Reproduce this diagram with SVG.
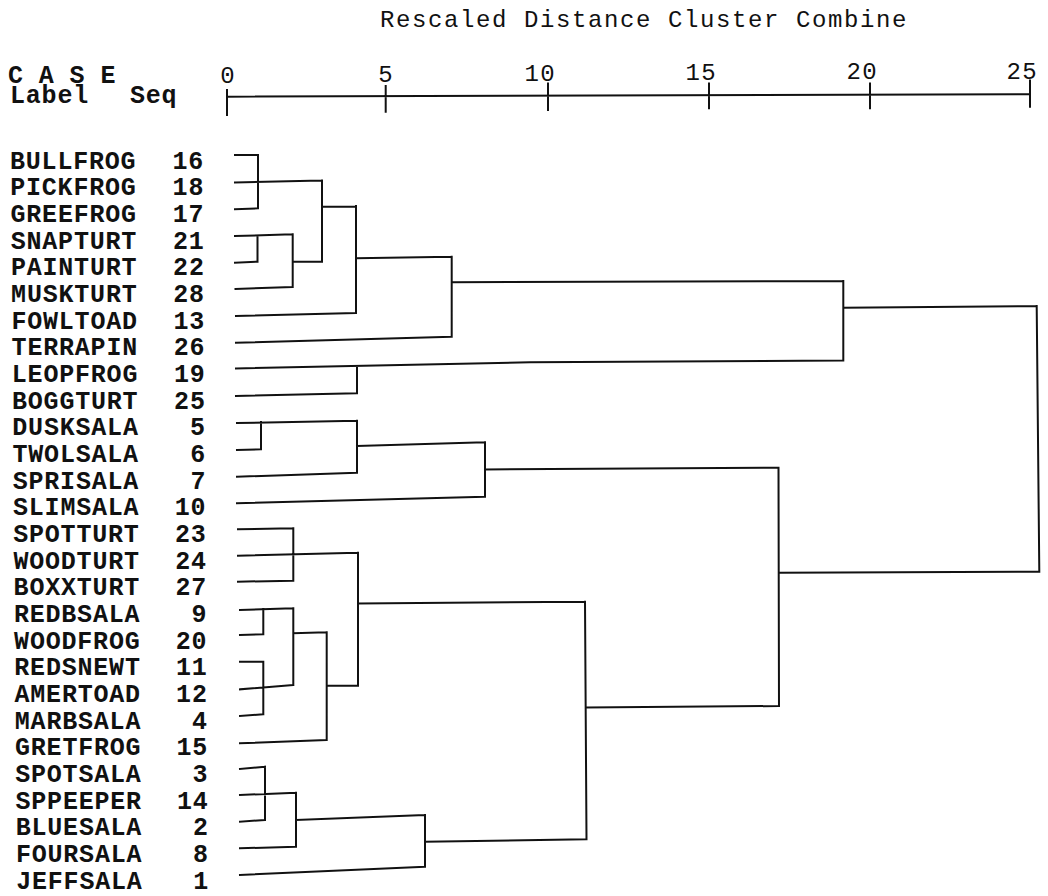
<svg xmlns="http://www.w3.org/2000/svg" width="1048" height="896" viewBox="0 0 1048 896">
<style>
.t{font-family:"Liberation Mono","DejaVu Sans Mono",monospace;font-size:25px;font-weight:bold;letter-spacing:0.8px;fill:#111}
.n{text-anchor:end}
.title{font-family:"Liberation Mono","DejaVu Sans Mono",monospace;font-size:24px;letter-spacing:1.6px;fill:#111}
.ax{font-family:"Liberation Mono","DejaVu Sans Mono",monospace;font-size:24px;letter-spacing:1.4px;fill:#111;text-anchor:end}
.l{fill:none;stroke:#111;stroke-width:2;stroke-linecap:square;stroke-linejoin:miter}
</style>
<rect width="1048" height="896" fill="#fff"/>
<text class="title" x="380" y="27">Rescaled Distance Cluster Combine</text>
<g id="header">
<text class="t" x="8" y="83" style="letter-spacing:0.4px">C A S E</text>
<text class="t" x="10" y="103">Label</text>
<text class="t" x="130" y="103">Seq</text>
</g>
<g id="axis">
<path class="l" d="M227,96.7 L1030,94.3 M227,90 V115 M385.7,86 V111.7 M548,83.5 V110 M709,83.5 V108.3 M870,83.5 V108.3 M1030,80.5 V106.7"/>
<text class="ax" x="236" y="83">0</text>
<text class="ax" x="394" y="82">5</text>
<text class="ax" x="556" y="80.5">10</text>
<text class="ax" x="717" y="80">15</text>
<text class="ax" x="878" y="79">20</text>
<text class="ax" x="1038" y="78.5">25</text>
</g>
<g id="leaf-16"><text class="t" x="10" y="168.5">BULLFROG</text><text class="t n" x="204" y="168.5">16</text></g>
<g id="leaf-18"><text class="t" x="10.2" y="195.2">PICKFROG</text><text class="t n" x="204.2" y="195.2">18</text></g>
<g id="leaf-17"><text class="t" x="10.5" y="221.8">GREEFROG</text><text class="t n" x="204.4" y="221.8">17</text></g>
<g id="leaf-21"><text class="t" x="10.7" y="248.5">SNAPTURT</text><text class="t n" x="204.6" y="248.5">21</text></g>
<g id="leaf-22"><text class="t" x="10.9" y="275.2">PAINTURT</text><text class="t n" x="204.7" y="275.2">22</text></g>
<g id="leaf-28"><text class="t" x="11.1" y="301.8">MUSKTURT</text><text class="t n" x="204.9" y="301.8">28</text></g>
<g id="leaf-13"><text class="t" x="11.4" y="328.5">FOWLTOAD</text><text class="t n" x="205.1" y="328.5">13</text></g>
<g id="leaf-26"><text class="t" x="11.6" y="355.2">TERRAPIN</text><text class="t n" x="205.3" y="355.2">26</text></g>
<g id="leaf-19"><text class="t" x="11.8" y="381.8">LEOPFROG</text><text class="t n" x="205.5" y="381.8">19</text></g>
<g id="leaf-25"><text class="t" x="12" y="408.5">BOGGTURT</text><text class="t n" x="205.7" y="408.5">25</text></g>
<g id="leaf-5"><text class="t" x="12.3" y="435.2">DUSKSALA</text><text class="t n" x="205.9" y="435.2">5</text></g>
<g id="leaf-6"><text class="t" x="12.5" y="461.8">TWOLSALA</text><text class="t n" x="206.1" y="461.8">6</text></g>
<g id="leaf-7"><text class="t" x="12.7" y="488.5">SPRISALA</text><text class="t n" x="206.2" y="488.5">7</text></g>
<g id="leaf-10"><text class="t" x="13" y="515.2">SLIMSALA</text><text class="t n" x="206.4" y="515.2">10</text></g>
<g id="leaf-23"><text class="t" x="13.2" y="541.8">SPOTTURT</text><text class="t n" x="206.6" y="541.8">23</text></g>
<g id="leaf-24"><text class="t" x="13.4" y="568.5">WOODTURT</text><text class="t n" x="206.8" y="568.5">24</text></g>
<g id="leaf-27"><text class="t" x="13.6" y="595.2">BOXXTURT</text><text class="t n" x="207" y="595.2">27</text></g>
<g id="leaf-9"><text class="t" x="13.9" y="621.8">REDBSALA</text><text class="t n" x="207.2" y="621.8">9</text></g>
<g id="leaf-20"><text class="t" x="14.1" y="648.5">WOODFROG</text><text class="t n" x="207.4" y="648.5">20</text></g>
<g id="leaf-11"><text class="t" x="14.3" y="675.2">REDSNEWT</text><text class="t n" x="207.6" y="675.2">11</text></g>
<g id="leaf-12"><text class="t" x="14.5" y="701.8">AMERTOAD</text><text class="t n" x="207.7" y="701.8">12</text></g>
<g id="leaf-4"><text class="t" x="14.8" y="728.5">MARBSALA</text><text class="t n" x="207.9" y="728.5">4</text></g>
<g id="leaf-15"><text class="t" x="15" y="755.2">GRETFROG</text><text class="t n" x="208.1" y="755.2">15</text></g>
<g id="leaf-3"><text class="t" x="15.2" y="781.8">SPOTSALA</text><text class="t n" x="208.3" y="781.8">3</text></g>
<g id="leaf-14"><text class="t" x="15.5" y="808.5">SPPEEPER</text><text class="t n" x="208.5" y="808.5">14</text></g>
<g id="leaf-2"><text class="t" x="15.7" y="835.2">BLUESALA</text><text class="t n" x="208.7" y="835.2">2</text></g>
<g id="leaf-8"><text class="t" x="15.9" y="861.8">FOURSALA</text><text class="t n" x="208.9" y="861.8">8</text></g>
<g id="leaf-1"><text class="t" x="16.2" y="888.5">JEFFSALA</text><text class="t n" x="209" y="888.5">1</text></g>
<g id="connectors">
<path class="l" d="M235,155 H258 M235,182.5 L322,180.5 M235,209.3 L258,208.3 M258,155 V208.3
M235,236 L292.7,234.3 M235,262.7 L257.5,261.7 M257.5,235.5 V261.7 M235.5,289 L292.7,287 M292.7,234.3 V287 M292.7,261.7 H322 M322,180.5 V261.7
M322,206.7 H356 M356,206 V313 M236,316 L356,313 M356,258.3 L451.7,256.7 M236,342.7 L451.7,336.7 M451.7,256.7 V336.7 M451.7,282.3 L843.3,281
M236,368.5 L530,362.3 L843.3,360.5 M236,396 L357,393.3 M357,366.5 V393.3 M843.3,281 V360.5 M843.3,307.7 L1036.7,306
M237,423 L357,420.7 M237,450 L261,449.3 M261,422 V449.3 M237,476.7 L357,472.7 M357,420.7 V472.7 M357,446 L485,442.3 M237,503.3 L485,496.7 M485,442.3 V496.7 M485,469.5 L778.5,467.7 M778.5,467.7 L779,706
M238,529.3 L293.3,528.3 M238,555.7 L357.7,552.7 M238,581.7 L293.3,580.7 M293.3,528.3 V580.7 M358,552.7 V685.7 M358,603.5 L585,601.7
M240,610 L293.3,608.3 M240,635 L263.3,634.3 M263.3,609 V634.3 M240,661.7 H263.3 M240,689.3 L293.3,685 M240,716 L263.3,714.3 M263.3,661.7 V714.3 M293.3,608.3 V685 M293.3,633.3 L326.7,632.3 M240,743.3 L326.7,740 M326.7,632.3 V740 M326.7,685.7 H358
M240,769 L265,766.7 M240,795 L296,792.7 M240,821.7 L265,820 M265,766.7 V820 M240,848.3 L296,846.7 M296,792.7 V846.7 M296,820 L425,815 M240,875 L425,866.7 M425,815 V866.7 M425,841.7 L586.5,839.3
M585,601.7 L586.5,839.3 M586,707.5 L779,706 M779,572.7 L1039.3,571.7 M1036.7,306 L1039.3,571.7"/>
</g>
</svg>
